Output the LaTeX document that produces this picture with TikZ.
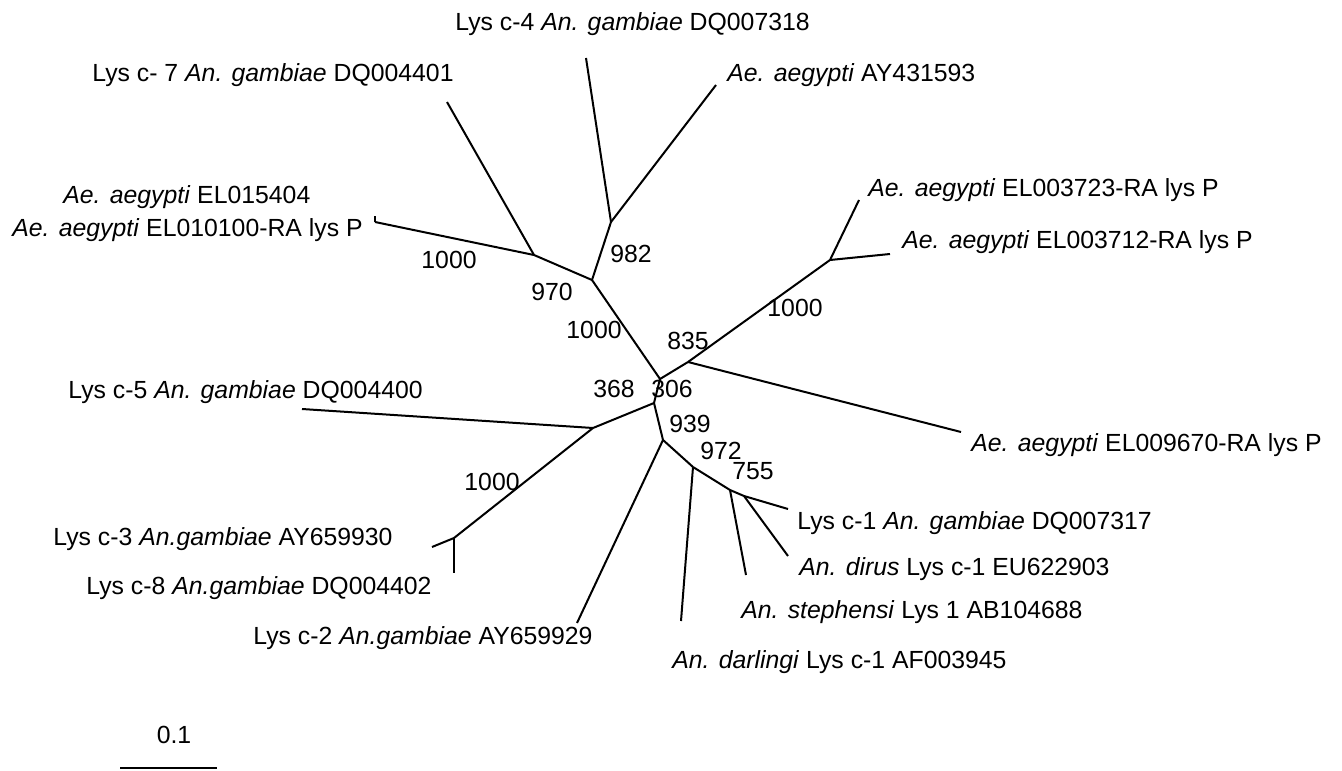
\documentclass[tikz,border=0pt]{standalone}
\usepackage{fontspec}
\setmainfont{Liberation Sans}
\begin{document}
\begin{tikzpicture}[x=0.5pt,y=-0.5pt]
        % Define styles
        \tikzset{
            branch/.style={line width=1pt},
            taxon/.style={anchor=west,inner sep=0pt,font=\fontsize{12.4}{14}\selectfont},
            support/.style={inner sep=0pt,font=\fontsize{12.4}{14}\selectfont}
        }
        \useasboundingbox (0,0) rectangle (1342,770);

        % Internal nodes
        \coordinate (root) at (660,379);
        \coordinate (n970) at (592,280);
        \coordinate (n1000a) at (534,255);
        \coordinate (n982) at (611,222);
        \coordinate (n835) at (688,362);
        \coordinate (n1000b) at (830,260);
        \coordinate (n906) at (654,403);
        \coordinate (n968) at (593,428);
        \coordinate (n1000c) at (454,538);
        \coordinate (n939) at (663,440);
        \coordinate (n972) at (693,467);
        \coordinate (n755) at (730,490);
        \coordinate (nc1) at (744,496);

        % Tips
        \coordinate (tc4) at (586,58);
        \coordinate (tc7) at (447,102);
        \coordinate (tay) at (716,85);
        \coordinate (tel) at (375,222);
        \coordinate (tel15) at (375,216);
        \coordinate (tel23) at (859,200);
        \coordinate (tel12) at (890,254);
        \coordinate (tel70) at (961,432);
        \coordinate (tc5) at (302,409);
        \coordinate (tc3) at (432,547);
        \coordinate (tc8) at (454,573);
        \coordinate (tc2) at (577,623);
        \coordinate (tdar) at (681,621);
        \coordinate (tste) at (746,575);
        \coordinate (tdir) at (788,556);
        \coordinate (tc1) at (788,509);

        % Draw branches
        \foreach \a/\b in {root/n970, n970/n1000a, n1000a/tel, tel/tel15, n1000a/tc7,
                n970/n982, n982/tc4, n982/tay, root/n835, n835/n1000b, n1000b/tel23,
                n1000b/tel12, n835/tel70, root/n906, n906/n968, n968/tc5, n968/n1000c,
                n1000c/tc3, n1000c/tc8, n906/n939, n939/tc2, n939/n972, n972/tdar,
                n972/n755, n755/tste, n755/nc1, nc1/tc1, nc1/tdir} {
                \draw[branch] (\a) -- (\b);
            }

        % Bootstrap values
        \foreach \nm/\x/\y/\v in {b982/631/254/982, b1000a/449/260/1000, b970/552/292/970,
                b1000r/594/330/1000, b835/688/341/835, b1000b/795/308/1000,
                b968/614/389/368, b906/672/389/306, b939/690/424/939,
                b972/721/451/972, b755/753/471/755, b1000c/492/482/1000} {
                \node[support] (\nm) at (\x,\y) {\v};
            }

        % Taxon labels
        \node[taxon] (c4) at (455,24) {Lys c-4 \textit{An. gambiae} DQ007318};
        \node[taxon] (c7) at (92,75) {Lys c- 7 \textit{An. gambiae} DQ004401};
        \node[taxon] (ay) at (727,75) {\textit{Ae. aegypti} AY431593};
        \node[taxon] (el15) at (63,197) {\textit{Ae. aegypti} EL015404};
        \node[taxon] (el10) at (12,230) {\textit{Ae. aegypti} EL010100-RA lys P};
        \node[taxon] (el23) at (868,190) {\textit{Ae. aegypti} EL003723-RA lys P};
        \node[taxon] (el12) at (902,242) {\textit{Ae. aegypti} EL003712-RA lys P};
        \node[taxon] (c5) at (68,392) {Lys c-5 \textit{An. gambiae} DQ004400};
        \node[taxon] (el70) at (971,445) {\textit{Ae. aegypti} EL009670-RA lys P};
        \node[taxon] (c1) at (797,523) {Lys c-1 \textit{An. gambiae} DQ007317};
        \node[taxon] (dir) at (799,569) {\textit{An. dirus} Lys c-1 EU622903};
        \node[taxon] (ste) at (741,612) {\textit{An. stephensi} Lys 1 AB104688};
        \node[taxon] (dar) at (672,662) {\textit{An. darlingi} Lys c-1 AF003945};
        \node[taxon] (c3) at (53,539) {Lys c-3 \textit{An.gambiae} AY659930};
        \node[taxon] (c8) at (86,588) {Lys c-8 \textit{An.gambiae} DQ004402};
        \node[taxon] (c2) at (253,638) {Lys c-2 \textit{An.gambiae} AY659929};

        % Scale bar
        \coordinate (sbl) at (120,768);
        \coordinate (sbr) at (217,768);
        \draw[branch] (sbl) -- (sbr);
        \node[support] (sblab) at (174,735) {0.1};

    \end{tikzpicture}
\end{document}
